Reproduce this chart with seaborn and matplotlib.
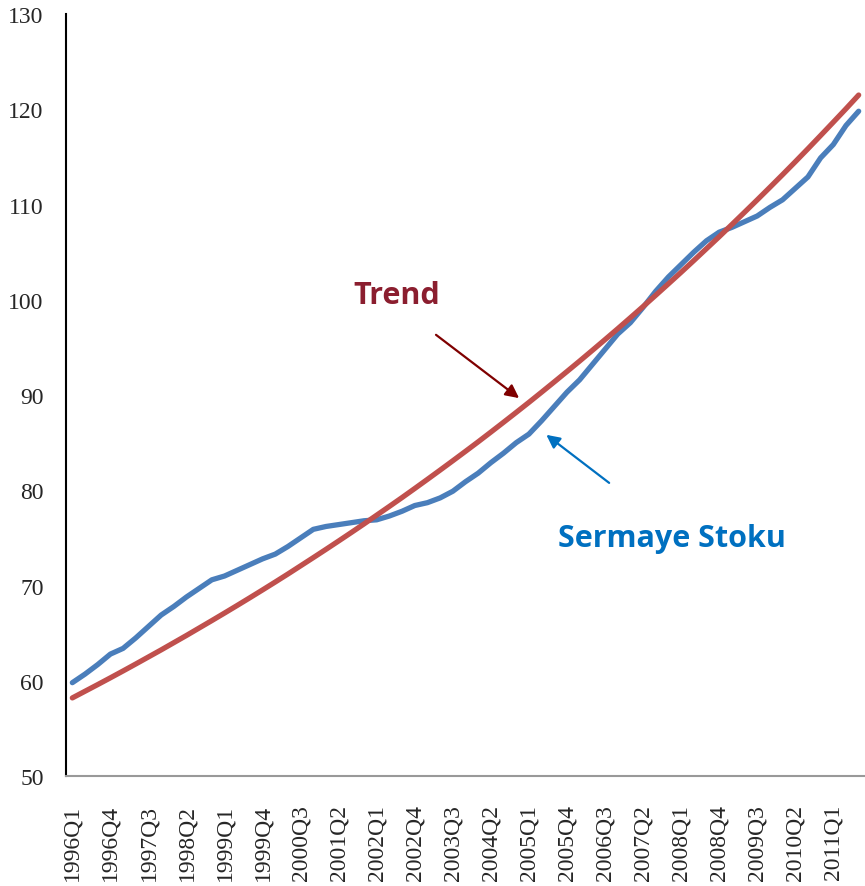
import numpy as np
import pandas as pd
import matplotlib
matplotlib.use("Agg")
import matplotlib.pyplot as plt
import seaborn as sns

# Veri: 1996Q1 - 2011Q3 ceyreklik
years = list(range(1996, 2012))
quarters = [f"{y}Q{q}" for y in years for q in range(1, 5)][:63]

sermaye_stoku = [
    59.8, 60.7, 61.7, 62.8, 63.4, 64.5, 65.7, 66.9, 67.8, 68.8,
    69.7, 70.6, 71.0, 71.6, 72.2, 72.8, 73.3, 74.1, 75.0, 75.9,
    76.2, 76.4, 76.6, 76.8, 76.9, 77.3, 77.8, 78.4, 78.7, 79.2,
    79.9, 80.9, 81.8, 82.9, 83.9, 85.0, 85.9, 87.3, 88.8, 90.3,
    91.6, 93.2, 94.8, 96.4, 97.6, 99.2, 100.9, 102.4, 103.7, 105.0,
    106.2, 107.1, 107.6, 108.2, 108.8, 109.7, 110.5, 111.7, 112.9, 114.9,
    116.3, 118.3, 119.8,
]

trend = [
    58.20, 58.90, 59.60, 60.31, 61.03, 61.76, 62.50, 63.24, 64.00, 64.76,
    65.54, 66.32, 67.11, 67.91, 68.72, 69.54, 70.37, 71.21, 72.07, 72.93,
    73.80, 74.68, 75.57, 76.47, 77.39, 78.31, 79.24, 80.19, 81.15, 82.12,
    83.10, 84.09, 85.09, 86.11, 87.14, 88.18, 89.23, 90.30, 91.38, 92.47,
    93.57, 94.69, 95.82, 96.96, 98.12, 99.29, 100.48, 101.68, 102.89, 104.12,
    105.37, 106.62, 107.90, 109.19, 110.49, 111.81, 113.14, 114.49, 115.86, 117.25,
    118.65, 120.06, 121.50,
]

df = pd.DataFrame({
    "donem": quarters,
    "idx": range(len(quarters)),
    "Sermaye Stoku": sermaye_stoku,
    "Trend": trend,
})

sns.set_style("white")
plt.rcParams["font.family"] = ["Liberation Serif", "DejaVu Serif"]

fig = plt.figure(figsize=(8.65, 8.87), dpi=100)
ax = fig.add_axes([0.0763, 0.124, 0.9237, 0.859])

sns.lineplot(data=df, x="idx", y="Sermaye Stoku", ax=ax, color="#4A7EBB", linewidth=3.8,
             solid_capstyle="round")
sns.lineplot(data=df, x="idx", y="Trend", ax=ax, color="#C0504D", linewidth=3.8,
             solid_capstyle="round")

ax.set_xlim(-0.5, len(quarters) - 0.5)
ax.set_ylim(50, 130)
ax.set_yticks(range(50, 131, 10))
ax.set_xlabel("")
ax.set_ylabel("")

# Etiketler her 3 ceyrekte bir
lab_pos = list(range(0, len(quarters), 3))
ax.set_xticks(lab_pos)
ax.set_xticklabels([quarters[i] for i in lab_pos], rotation=90, fontsize=17)
ax.set_xticks(np.arange(-0.5, len(quarters), 1), minor=True)
ax.tick_params(axis="x", which="major", length=0, pad=20)
ax.tick_params(axis="x", which="minor", length=5, width=1.5, color="#999999", direction="out")
ax.tick_params(axis="y", length=5, width=1.5, color="black", labelsize=17, pad=11, direction="out")

for s in ["top", "right"]:
    ax.spines[s].set_visible(False)
ax.spines["left"].set_color("black")
ax.spines["left"].set_linewidth(1.5)
ax.spines["bottom"].set_color("#999999")
ax.spines["bottom"].set_linewidth(1.5)

# Aciklamalar
ax.text(25.6, 100.5, "Trend", color="#8B1E2F", fontsize=22, fontweight="bold",
        family=["Open Sans", "DejaVu Sans"], ha="center", va="center")
ax.annotate("", xy=(35.4, 89.5), xytext=(28.5, 96.5),
            arrowprops=dict(arrowstyle="-|>,head_length=0.8,head_width=0.4",
                            color="#7F0000", lw=1.6))
ax.text(47.3, 75.0, "Sermaye Stoku", color="#0070C0", fontsize=22, fontweight="bold",
        family=["Open Sans", "DejaVu Sans"], ha="center", va="center")
ax.annotate("", xy=(37.2, 86.0), xytext=(42.5, 80.6),
            arrowprops=dict(arrowstyle="-|>,head_length=0.8,head_width=0.4",
                            color="#0070C0", lw=1.6))

fig.savefig("out.png", dpi=100)
